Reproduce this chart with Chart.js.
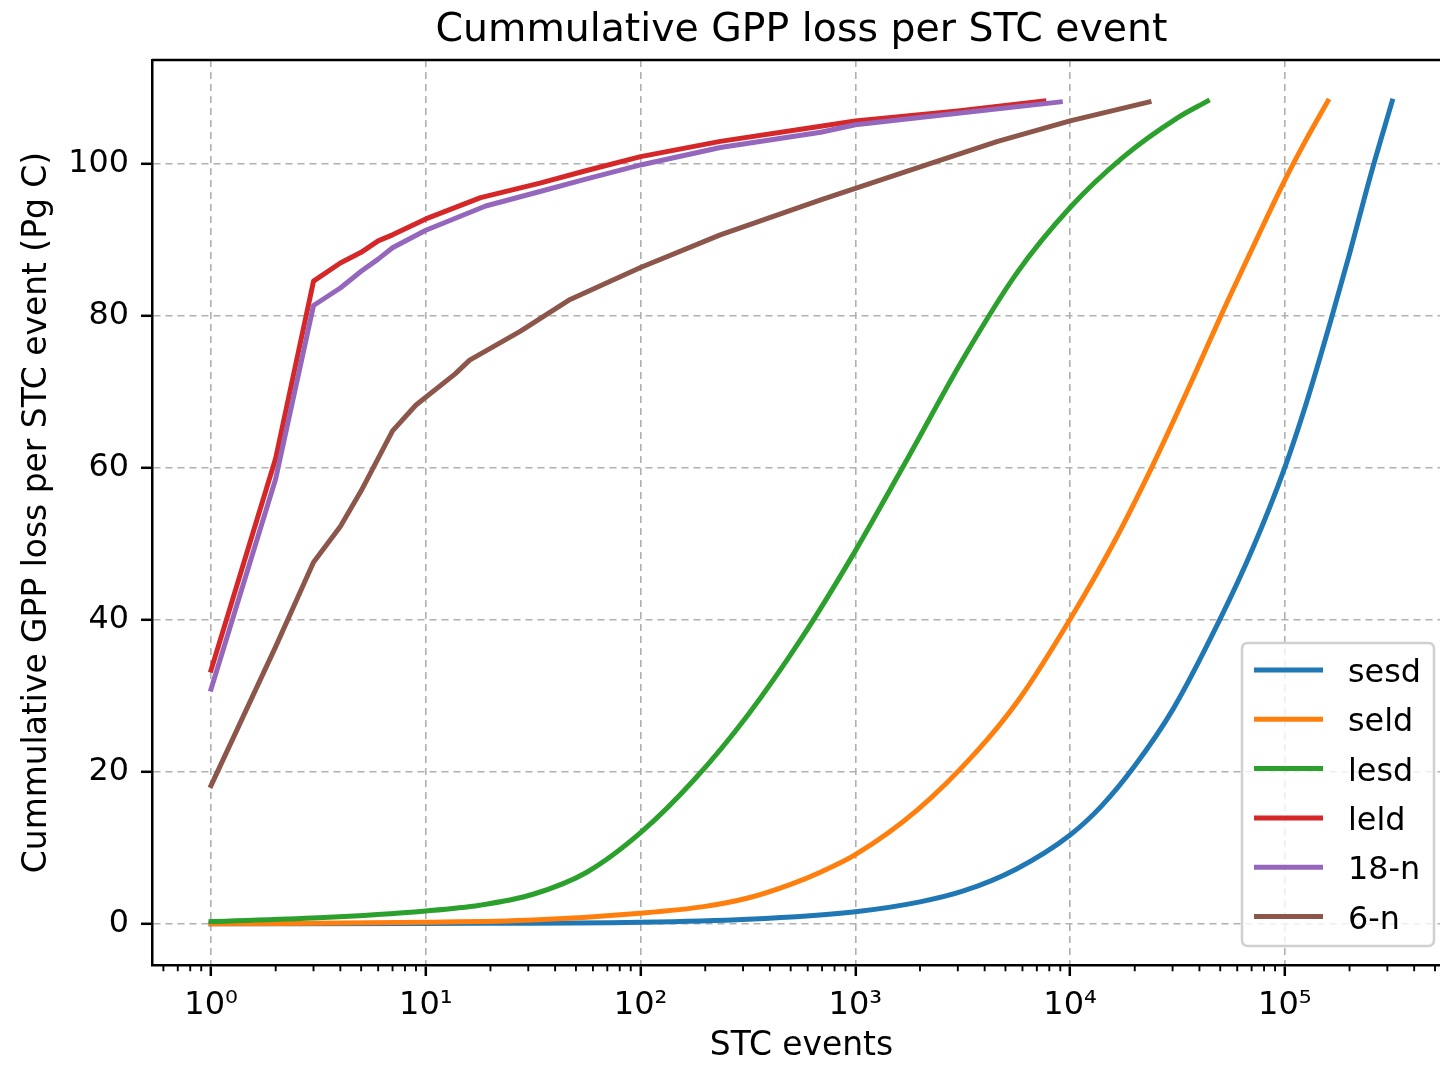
<!DOCTYPE html>
<html><head><meta charset="utf-8">
<script src="https://cdn.jsdelivr.net/npm/chart.js@4"></script>
<style>html,body{margin:0;padding:0;overflow:hidden;background:#fff}canvas{display:block}</style>
</head><body>
<canvas id="c" width="1460" height="1066" style="width:1460px;height:1066px"></canvas>
<script>
const titleText = 'Cummulative GPP loss per STC event';
const xAxisTitle = 'STC events';
const yAxisTitle = 'Cummulative GPP loss per STC event (Pg C)';

const seriesLabels = ['sesd', 'seld', 'lesd', 'leld', '18-n', '6-n'];
const seriesColors = ['#1f77b4', '#ff7f0e', '#2ca02c', '#d62728', '#9467bd', '#8c564b'];

const xMajorTicks = [1, 10, 100, 1000, 10000, 100000];
const xTickLabels = ['10\u2070', '10\u00b9', '10\u00b2', '10\u00b3', '10\u2074', '10\u2075'];
const yTicks = [0, 20, 40, 60, 80, 100];

const sesdX = [1, 10, 100, 316, 1000, 2000, 3160, 5600, 10000, 14100, 20000, 30200, 50100, 70800, 100000, 126000, 162000, 200000, 251000, 316000];
const sesdY = [0.0, 0.05, 0.2, 0.6, 1.6, 2.9, 4.3, 7.2, 11.7, 15.6, 20.8, 28.3, 40.2, 49.4, 60.1, 68.6, 79.0, 88.2, 98.6, 108.3];

const seldX = [1, 10, 31.6, 100, 200, 316, 500, 700, 1000, 1928, 3650, 5800, 10000, 15850, 24000, 37600, 50100, 73000, 100000, 126000, 158500];
const seldY = [0.0, 0.2, 0.5, 1.4, 2.3, 3.4, 5.2, 6.9, 9.1, 14.9, 22.6, 29.6, 40.1, 50.0, 60.1, 72.0, 79.9, 89.8, 97.9, 103.3, 108.3];

const lesdX = [1, 3.16, 10, 17.8, 31.6, 56.2, 100, 178, 316, 562, 1000, 1778, 3162, 5623, 10000, 17783, 31623, 43600];
const lesdY = [0.3, 0.8, 1.7, 2.45, 3.9, 6.8, 12.0, 19.0, 27.5, 37.6, 49.1, 61.6, 74.3, 85.6, 94.3, 101.0, 106.1, 108.3];

const leldX = [1, 2, 3, 4, 5, 6, 7, 10, 18, 34, 55, 100, 235, 690, 1000, 3000, 7550];
const leldY = [33.4, 61.3, 84.6, 87.0, 88.4, 89.9, 90.7, 92.8, 95.6, 97.5, 99.1, 101.0, 103.0, 105.0, 105.7, 107.0, 108.3];

const n18X = [1, 2, 3, 4, 5, 6, 7, 10, 19, 34, 55, 100, 235, 690, 1000, 3000, 9000];
const n18Y = [30.9, 58.6, 81.4, 83.7, 85.9, 87.5, 89.0, 91.3, 94.5, 96.4, 98.0, 99.9, 102.2, 104.2, 105.2, 106.7, 108.2];

const n6X = [1, 2, 3, 4, 5, 7, 9, 13.7, 16, 27.5, 47, 100, 235, 690, 1000, 2300, 4600, 10000, 23300];
const n6Y = [18.2, 36.5, 47.6, 52.3, 57.0, 64.9, 68.3, 72.4, 74.2, 78.0, 82.2, 86.4, 90.7, 95.3, 96.8, 100.2, 103.0, 105.7, 108.2];

const seriesX = [sesdX, seldX, lesdX, leldX, n18X, n6X];
const seriesY = [sesdY, seldY, lesdY, leldY, n18Y, n6Y];
const smoothSeries = [true, true, true, false, false, false];

const FONT = 'DejaVu Sans';
const LW = 5.0;

const datasets = seriesLabels.map((lab, i) => ({
  label: lab,
  data: seriesX[i].map((x, j) => ({ x: x, y: seriesY[i][j] })),
  borderColor: seriesColors[i],
  backgroundColor: seriesColors[i],
  borderWidth: LW,
  pointRadius: 0,
  fill: false,
  tension: 0,
  cubicInterpolationMode: smoothSeries[i] ? 'monotone' : 'default',
  borderJoinStyle: 'round',
  borderCapStyle: 'square',
  order: seriesLabels.length - i
}));

const mplDecor = {
  id: 'mplDecor',
  afterDraw(chart) {
    const ctx = chart.ctx, a = chart.chartArea, x = chart.scales.x;
    ctx.save();
    // top and right spines
    ctx.strokeStyle = '#000';
    ctx.lineWidth = 2.5;
    ctx.beginPath();
    ctx.moveTo(a.left, a.top);
    ctx.lineTo(a.right, a.top);
    ctx.lineTo(a.right, a.bottom);
    ctx.stroke();
    // minor log ticks
    ctx.lineWidth = 1.9;
    for (let k = -1; k <= 6; k++) {
      for (let m = 2; m <= 9; m++) {
        const v = m * Math.pow(10, k);
        if (v < x.min || v > x.max) continue;
        const px = x.getPixelForValue(v);
        ctx.beginPath();
        ctx.moveTo(px, a.bottom);
        ctx.lineTo(px, a.bottom + 6.25);
        ctx.stroke();
      }
    }
    // title
    ctx.fillStyle = '#000';
    ctx.font = '39.4px "' + FONT + '"';
    ctx.textAlign = 'center';
    ctx.textBaseline = 'alphabetic';
    ctx.fillText(titleText, (a.left + a.right) / 2, 41);
    // legend box
    const bx = 1242, by = 643, bw = 192, bh = 303, r = 6;
    ctx.beginPath();
    ctx.moveTo(bx + r, by);
    ctx.lineTo(bx + bw - r, by);
    ctx.quadraticCurveTo(bx + bw, by, bx + bw, by + r);
    ctx.lineTo(bx + bw, by + bh - r);
    ctx.quadraticCurveTo(bx + bw, by + bh, bx + bw - r, by + bh);
    ctx.lineTo(bx + r, by + bh);
    ctx.quadraticCurveTo(bx, by + bh, bx, by + bh - r);
    ctx.lineTo(bx, by + r);
    ctx.quadraticCurveTo(bx, by, bx + r, by);
    ctx.closePath();
    ctx.fillStyle = 'rgba(255,255,255,0.8)';
    ctx.fill();
    ctx.strokeStyle = '#d0d0d0';
    ctx.lineWidth = 2.5;
    ctx.stroke();
    // legend entries
    ctx.font = '31.8px "' + FONT + '"';
    ctx.textAlign = 'left';
    ctx.textBaseline = 'alphabetic';
    chart.data.datasets.forEach((ds, i) => {
      const ly = 670 + i * 49.3;
      ctx.strokeStyle = ds.borderColor;
      ctx.lineWidth = LW;
      ctx.lineCap = 'butt';
      ctx.beginPath();
      ctx.moveTo(1254, ly);
      ctx.lineTo(1323, ly);
      ctx.stroke();
      ctx.fillStyle = '#000';
      ctx.fillText(ds.label, 1348, ly + 12);
    });
    ctx.restore();
  }
};

const gridOpts = { color: '#b0b0b0', lineWidth: 1.6, tickLength: 11, tickColor: '#000', tickWidth: 2.5 };
const borderOpts = { display: true, color: '#000', width: 2.5, dash: [7, 5] };

new Chart(document.getElementById('c'), {
  type: 'line',
  data: { datasets: datasets },
  options: {
    responsive: false,
    animation: false,
    events: [],
    layout: { padding: { top: 60, right: 9, bottom: 0, left: 0 } },
    plugins: { legend: { display: false }, title: { display: false }, tooltip: { enabled: false } },
    scales: {
      x: {
        type: 'logarithmic',
        min: Math.pow(10, -0.2749),
        max: Math.pow(10, 5.7735),
        afterBuildTicks: s => { s.ticks = xMajorTicks.map(v => ({ value: v, major: true })); },
        afterFit: s => { s.height = 101; },
        ticks: {
          autoSkip: false, maxRotation: 0, minRotation: 0, padding: 10, color: '#000',
          font: { family: FONT, size: 32 },
          callback: v => xTickLabels[xMajorTicks.indexOf(v)]
        },
        grid: gridOpts,
        border: borderOpts,
        title: { display: true, text: xAxisTitle, color: '#000', font: { family: FONT, size: 32.9, lineHeight: 1.2 }, padding: { top: 0, bottom: 0 } }
      },
      y: {
        type: 'linear',
        min: -5.415,
        max: 113.715,
        afterBuildTicks: s => { s.ticks = yTicks.map(v => ({ value: v })); },
        afterFit: s => { s.width = 152; },
        ticks: { padding: 12, color: '#000', font: { family: FONT, size: 31.8 }, callback: v => String(v) },
        grid: gridOpts,
        border: borderOpts,
        title: { display: true, text: yAxisTitle, color: '#000', font: { family: FONT, size: 32.9, lineHeight: 1.2 }, padding: { top: 18, bottom: 0 } }
      }
    }
  },
  plugins: [mplDecor]
});
</script>
</body></html>
